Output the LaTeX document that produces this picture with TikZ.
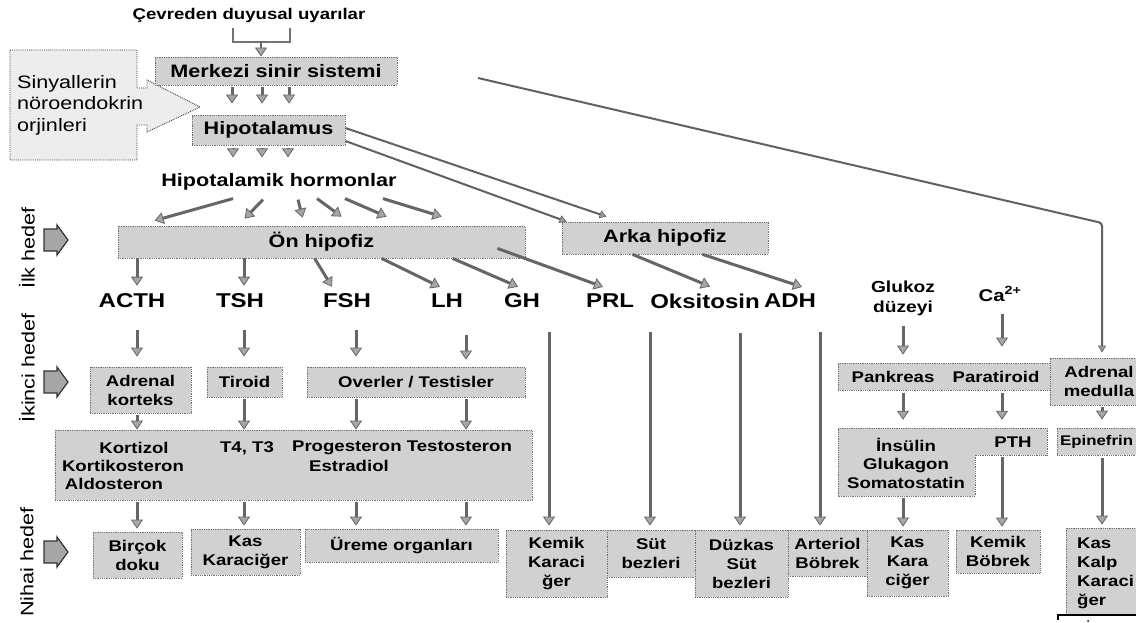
\documentclass[tikz,border=0pt]{standalone}
\usepackage{fontspec}
\setmainfont{Liberation Sans}[FakeStretch=1.2]
\usetikzlibrary{arrows.meta,calc}
\begin{document}
\begin{tikzpicture}[x=1pt,y=-1pt,
  box/.style={draw=black!55, densely dotted, line width=0.8pt, fill=black!18, inner sep=0pt, align=center, font=\bfseries\fontsize{15.5}{19}\selectfont},
  bigbox/.style={box, font=\bfseries\fontsize{18}{22}\selectfont},
  ghost/.style={draw=none, fill=none, inner sep=0pt},
  lab/.style={inner sep=0pt, font=\bfseries\fontsize{20}{24}\selectfont},
  txt/.style={inner sep=0pt, align=center, font=\bfseries\fontsize{15.5}{19}\selectfont},
  sidelab/.style={inner sep=0pt, rotate=90, font=\fontsize{18}{20}\selectfont},
  arr/.style={draw=black!60, line width=3pt, -{Triangle[length=9pt,width=12pt,fill=black!35,line width=0.8pt]}},
  thinarr/.style={draw=black!62, line width=2pt, -{Triangle[length=7pt,width=8pt,fill=black!40,line width=0.6pt]}},
  thinline/.style={draw=black!55, line width=2pt},
  icon/.style={fill=black!35, draw=black!80, line width=1.2pt},
  stepshape/.style={draw=black!55, densely dotted, line width=0.8pt, fill=black!18}
]
\useasboundingbox (0,0) rectangle (1136,623);
\fill[white] (0,0) rectangle (1136,623);
\clip (0,0) rectangle (1136,623);

% column coordinates
\coordinate (cA) at (137,0);
\coordinate (cT) at (244,0);
\coordinate (cF) at (356,0);
\coordinate (cL) at (466,0);
\coordinate (cG) at (549,0);
\coordinate (cP) at (650,0);
\coordinate (cO) at (740,0);
\coordinate (cD) at (820,0);
\coordinate (cGl) at (903,0);
\coordinate (cCa) at (1002,0);
\coordinate (cAd) at (1102,0);

% ---------- left signal shape ----------
\draw[fill=black!7, draw=black!75, densely dotted, line width=0.9pt]
  (10,50) -- (137,50) -- (137,88) -- (147,88) -- (147,80) -- (200,107) -- (147,132) -- (147,125) -- (137,125) -- (137,160) -- (10,160) -- cycle;
\node[anchor=west, align=left, inner sep=0pt, font=\fontsize{18}{21.5}\selectfont] (sig) at (17,105) {Sinyallerin\\nöroendokrin\\orjinleri};

% ---------- top ----------
\node[txt, font=\bfseries\fontsize{15.5}{19}\selectfont] (cev) at (249,15) {Çevreden duyusal uyarılar};
\coordinate (brL) at (233,28);
\coordinate (brR) at (290,28);
\coordinate (brM) at (261,42);
\draw[thinline] (brL) -- (brL |- brM) -- (brR |- brM) -- (brR);
\node[bigbox, minimum width=242pt, minimum height=28pt] (mer) at (276,71) {Merkezi sinir sistemi};
\draw[arr, line width=2pt] (brM) -- (mer.north -| brM);

\node[bigbox, minimum width=153pt, minimum height=30pt] (hip) at (268.5,130) {Hipotalamus};
\foreach \xx in {232,262,289}{
  \coordinate (cc) at (\xx,0);
  \draw[arr, shorten <=2pt, shorten >=11pt] (mer.south -| cc) -- (hip.north -| cc);
}
\node[lab, font=\bfseries\fontsize{18}{22}\selectfont] (hh) at (279,182) {Hipotalamik hormonlar};
\foreach \xx in {233,262,288}{
  \coordinate (cc) at (\xx,0);
  \draw[arr, shorten <=3pt, shorten >=16pt] (hip.south -| cc) -- (hh.north -| cc);
}

% ---------- pituitary ----------
\node[bigbox, minimum width=407pt, minimum height=32pt] (on) at (321.5,242) {Ön hipofiz};
\node[bigbox, minimum width=206pt, minimum height=32pt] (arka) at (665,238) {Arka hipofiz};

\coordinate (hhb) at ($(hh.south)+(0,8)$);
\draw[arr] ($(hhb)+(-46,0)$) -- ($(on.north west)+(37,-5)$);
\draw[arr] ($(hhb)+(-16,1)$) -- ($(on.north west)+(127,-7)$);
\draw[arr] ($(hhb)+(19,1)$) -- ($(on.north west)+(185,-8)$);
\draw[arr] ($(hhb)+(38,0)$) -- ($(on.north west)+(224,-9)$);
\draw[arr] ($(hhb)+(66,0)$) -- ($(on.north west)+(269,-9)$);
\draw[arr] ($(hhb)+(104,0)$) -- ($(on.north west)+(324,-9)$);

% hypothalamus -> posterior pituitary
\draw[thinarr] ($(hip.east)+(0,-2)$) -- ($(arka.north west)+(45,-5)$);
\draw[thinarr] ($(hip.east)+(0,11)$) -- ($(arka.north west)+(5,0)$);

% ---------- hormone labels ----------
\node[lab] (acth) at (132,301) {ACTH};
\node[lab] (tsh) at (240,301) {TSH};
\node[lab] (fsh) at (347,301) {FSH};
\node[lab] (lh) at (447,301) {LH};
\node[lab] (gh) at (522,301) {GH};
\node[lab] (prl) at (610,301) {PRL};
\node[lab] (oks) at (705,301) {Oksitosin};
\node[lab] (adh) at (790,301) {ADH};

\draw[arr, shorten >=8pt] (on.south -| cA) -- (acth.north -| cA);
\draw[arr, shorten >=8pt] (on.south -| cT) -- (tsh.north -| cT);
\draw[arr] ($(on.south west)+(197,0)$) -- ($(fsh.north)+(-15,-7)$);
\draw[arr] ($(on.south west)+(264,0)$) -- ($(lh.north)+(-7,-7)$);
\draw[arr] ($(on.south west)+(335,0)$) -- ($(gh.north)+(-4,-7)$);
\draw[arr] ($(on.south east)+(-28,-10)$) -- ($(prl.north)+(-7,-7)$);
\draw[arr] ($(arka.south west)+(71,0)$) -- ($(oks.north)+(5,-7)$);
\draw[arr] ($(arka.south west)+(141,0)$) -- ($(adh.north)+(12,-7)$);

% ---------- second targets ----------
\node[box, minimum width=101pt, minimum height=46pt] (adk) at (140.5,390) {Adrenal\\korteks};
\node[box, minimum width=75pt, minimum height=30pt] (tir) at (244.5,382) {Tiroid};
\node[box, minimum width=218pt, minimum height=30pt] (ovt) at (416,382) {Overler / Testisler};

\draw[arr, shorten <=22pt, shorten >=10pt] (acth.south -| cA) -- (adk.north -| cA);
\draw[arr, shorten <=22pt, shorten >=10pt] (tsh.south -| cT) -- (tir.north -| cT);
\draw[arr, shorten <=22pt, shorten >=10pt] (fsh.south -| cF) -- (ovt.north -| cF);
\draw[arr, shorten <=27pt, shorten >=7pt] (lh.south -| cL) -- (ovt.north -| cL);

% hormone box
\node[box, minimum width=477pt, minimum height=70pt] (hb) at (293.5,465) {};
\node[txt] (kor) at (134,448) {Kortizol};
\node[txt] (kko) at (123,466) {Kortikosteron};
\node[txt] (ald) at (114,484) {Aldosteron};
\node[txt] (t43) at (247,448) {T4, T3};
\node[txt] (pte) at (402,448) {Progesteron Testosteron};
\node[txt] (est) at (349,466) {Estradiol};

\draw[arr, shorten <=2pt] (adk.south -| cA) -- (hb.north -| cA);
\draw[arr, shorten <=2pt] (tir.south -| cT) -- (hb.north -| cT);
\draw[arr, shorten <=2pt] (ovt.south -| cF) -- (hb.north -| cF);
\draw[arr, shorten <=2pt] (ovt.south -| cL) -- (hb.north -| cL);

% ---------- final targets (left) ----------
\node[box, minimum width=89pt, minimum height=46pt] (bir) at (137.5,555) {Birçok\\doku};
\node[box, minimum width=109pt, minimum height=46pt] (kas) at (245.5,552) {Kas\\Karaciğer};
\node[box, minimum width=193pt, minimum height=33pt] (ure) at (401.5,545.5) {Üreme organları};

\draw[arr, shorten <=2pt, shorten >=3pt] (hb.south -| cA) -- (bir.north -| cA);
\draw[arr, shorten <=2pt, shorten >=3pt] (hb.south -| cT) -- (kas.north -| cT);
\draw[arr, shorten <=2pt, shorten >=3pt] (hb.south -| cF) -- (ure.north -| cF);
\draw[arr, shorten <=2pt, shorten >=3pt] (hb.south -| cL) -- (ure.north -| cL);

% ---------- final targets (right) ----------
\node[box, minimum width=101pt, minimum height=67pt] (kem) at (556.5,563.5) {Kemik\\Karaci\\ğer};
\node[box, minimum width=88pt, minimum height=47pt] (sut) at (651,553.5) {Süt\\bezleri};
\node[box, minimum width=93pt, minimum height=67pt] (duz) at (741.5,563.5) {Düzkas\\Süt\\bezleri};
\node[box, minimum width=79pt, minimum height=46pt] (art) at (827.5,553) {Arteriol\\Böbrek};
\node[box, minimum width=81pt, minimum height=66pt] (kk) at (907.5,563) {Kas\\Kara\\ciğer};
\node[box, minimum width=84pt, minimum height=43pt] (kb) at (998,551.5) {Kemik\\Böbrek};
\node[box, minimum width=84pt, minimum height=86pt] (kkk) at (1108,571) {};
\node[txt, anchor=west, align=left] (kkkt) at (1077,573) {Kas\\Kalp\\Karaci\\ğer};

\draw[arr, shorten <=24pt, shorten >=4pt] (gh.south -| cG) -- (kem.north -| cG);
\draw[arr, shorten <=24pt, shorten >=4pt] (prl.south -| cP) -- (sut.north -| cP);
\draw[arr, shorten <=24pt, shorten >=4pt] (oks.south -| cO) -- (duz.north -| cO);
\draw[arr, shorten <=24pt, shorten >=4pt] (adh.south -| cD) -- (art.north -| cD);

% ---------- right branch ----------
\node[txt, font=\bfseries\fontsize{16}{20}\selectfont] (glu) at (903,298) {Glukoz\\düzeyi};
\node[lab, font=\bfseries\fontsize{17}{20}\selectfont] (ca) at (1000,294) {Ca\textsuperscript{2+}};

\node[box, minimum width=212pt, minimum height=27pt] (pp) at (944,376.5) {};
\node[txt] (pank) at (893,377) {Pankreas};
\node[txt] (para) at (996,377) {Paratiroid};
\node[box, minimum width=100pt, minimum height=47pt] (admed) at (1100,381.5) {};
\node[txt] (admt) at (1099,381) {Adrenal\\medulla};

\draw[arr, shorten <=10pt, shorten >=8pt] (glu.south -| cGl) -- (pp.north -| cGl);
\draw[arr, shorten <=12pt, shorten >=16pt] (ca.south -| cCa) -- (pp.north -| cCa);

\draw[stepshape] (838,428) -- (1047,428) -- (1047,455) -- (975,455) -- (975,496) -- (838,496) -- cycle;
\node[ghost, minimum width=137pt, minimum height=68pt] (insb) at (906.5,462) {};
\node[ghost, minimum width=72pt, minimum height=27pt] (pthb) at (1011,441.5) {};
\node[txt, font=\bfseries\fontsize{15.5}{18.5}\selectfont] (ins) at (906,463) {İnsülin\\Glukagon\\Somatostatin};
\node[txt] (pth) at (1013,442) {PTH};
\node[box, minimum width=93pt, minimum height=27pt] (epi) at (1103.5,441.5) {};
\node[txt, anchor=west, font=\bfseries\fontsize{14}{17}\selectfont] (epit) at (1060,442) {Epinefrin};

\draw[arr, shorten <=3pt, shorten >=8pt] (pp.south -| cGl) -- (insb.north -| cGl);
\draw[arr, shorten <=3pt, shorten >=8pt] (pp.south -| cCa) -- (pthb.north -| cCa);
\draw[arr, shorten <=2pt, shorten >=8pt] (admed.south -| cAd) -- (epi.north -| cAd);
\draw[arr, shorten <=2pt, shorten >=3pt] (insb.south -| cGl) -- (kk.north -| cGl);
\draw[arr, shorten <=2pt, shorten >=3pt] (pthb.south -| cCa) -- (kb.north -| cCa);
\draw[arr, shorten <=3pt, shorten >=3pt] (epi.south -| cAd) -- (kkk.north -| cAd);

% long line from CNS to adrenal medulla
\coordinate (ls) at (478,78);
\coordinate (lcorner) at (1102,223);
\draw[thinarr, rounded corners=3pt, shorten >=5pt] (ls) -- (lcorner) -- (admed.north -| cAd);

% ---------- side labels ----------
\node[sidelab] (ilk) at (27,248) {İlk hedef};
\node[sidelab] (ikinci) at (27,368) {İkinci hedef};
\node[sidelab] (nihai) at (27,562) {Nihai hedef};
\foreach \cy in {240,382,552}{
  \draw[icon] (44,\cy-11) -- (57,\cy-11) -- (57,\cy-15) -- (68,\cy) -- (57,\cy+15) -- (57,\cy+11) -- (44,\cy+11) -- cycle;
}

% bottom-right rule
\draw[line width=1.2pt] (1058,620) -- (1058,615) -- (1140,615);
\fill (1088,621) circle (1pt);
\end{tikzpicture}
\end{document}
